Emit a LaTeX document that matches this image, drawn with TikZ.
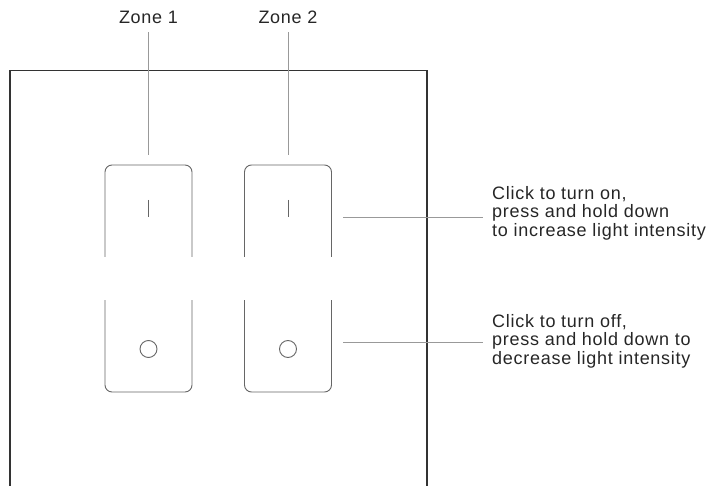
\documentclass[tikz,border=0pt]{standalone}
\usepackage{fontspec}
\setmainfont[LetterSpace=4]{Liberation Sans}
\usepackage{xcolor}
\usetikzlibrary{positioning}
\colorlet{panelcolor}{black!80}
\colorlet{keycolor}{black!60}
\colorlet{leadercolor}{black!40}
\newcommand\keyhalf{43.5}
\tikzset{panelstyle/.style={draw=panelcolor, line width=1.3pt}}
\tikzset{keystyle/.style={draw=keycolor, line width=0.9pt, rounded corners=7pt}}
\tikzset{keymark/.style={draw=keycolor, line width=0.9pt}}
\tikzset{leader/.style={draw=leadercolor, line width=0.9pt}}
\tikzset{labelstyle/.style={font=\fontsize{18}{18.5}\selectfont, text=black!85, inner sep=4pt}}
\tikzset{notestyle/.style={labelstyle, align=left, anchor=north west, inner xsep=9pt, inner ysep=0pt}}

\begin{document}
\begin{tikzpicture}[x=1pt,y=-1pt]
\useasboundingbox (0,0) rectangle (709,486);
% panel, open at the bottom
\draw[panelstyle] (10,492) -- (10,70.5) -- (427,70.5) -- (427,492);
\foreach \xx [count=\i] in {148.5,288} {
	\node[labelstyle, anchor=base] (zone\i) at (\xx,24) {Zone \i};
	\coordinate (keytop\i) at (\xx,155);
	\draw[leader, shorten <=4pt] (zone\i) -- (keytop\i);
	% upper and lower half of the key
	\draw[keystyle] (\xx-\keyhalf,257) -- (\xx-\keyhalf,165) -- (\xx+\keyhalf,165) -- (\xx+\keyhalf,257);
	\draw[keystyle] (\xx-\keyhalf,300) -- (\xx-\keyhalf,392) -- (\xx+\keyhalf,392) -- (\xx+\keyhalf,300);
	\draw[keymark] (\xx,200) -- (\xx,217);
	\node[circle, keymark, minimum size=17pt, inner sep=0pt] (dot\i) at (\xx,349) {};
}
\node[notestyle] (onnote) at (483,186) {Click to turn on,\\press and hold down\\to increase light intensity};
\node[notestyle] (offnote) at (483,314) {Click to turn off,\\press and hold down to\\decrease light intensity};
\coordinate (onstart) at (343,217);
\coordinate (offstart) at (343,342);
\draw[leader] (onstart) -- (onstart -| onnote.west);
\draw[leader] (offstart) -- (offstart -| offnote.west);
%\node at (149,349) {x};
\end{tikzpicture}
\end{document}
